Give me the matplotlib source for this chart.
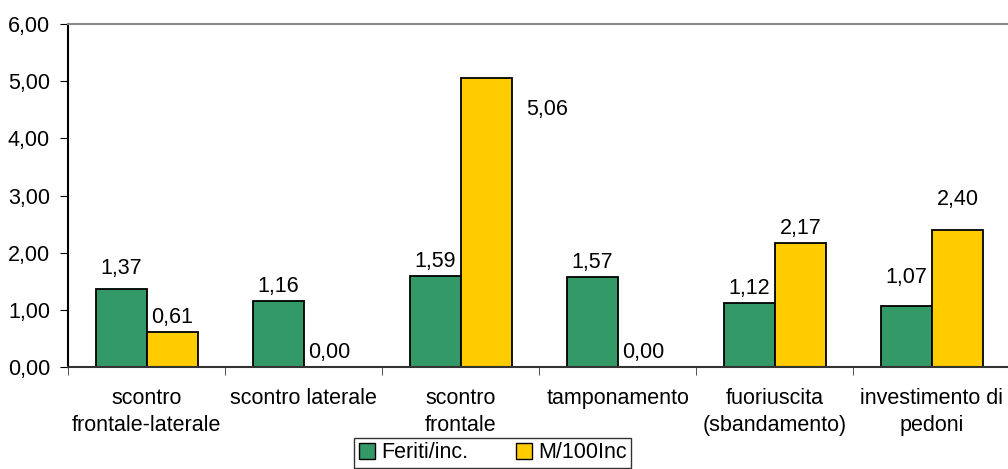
import numpy as np
import matplotlib.pyplot as plt
from matplotlib.patches import Patch

plt.rcParams['font.family'] = ['Liberation Sans', 'DejaVu Sans']

categories = ["scontro\nfrontale-laterale", "scontro laterale", "scontro\nfrontale",
              "tamponamento", "fuoriuscita\n(sbandamento)", "investimento di\npedoni"]
feriti = [1.37, 1.16, 1.59, 1.57, 1.12, 1.07]
morti = [0.61, 0.00, 5.06, 0.00, 2.17, 2.40]
series_names = ["Feriti/inc.", "M/100Inc"]
yticks = [0, 1, 2, 3, 4, 5, 6]

green = "#339966"
yellow = "#ffcc00"

# label offsets in points (dx, dy) from the top centre of each bar
feriti_offsets = {0: (0, 7), 5: (0, 13)}
morti_offsets = {2: (44, -23), 5: (0, 14)}

fig = plt.figure(figsize=(10.08, 4.69), dpi=100)
ax = fig.add_axes([0.0675, 0.2175, 0.935, 0.7313])

x = np.arange(len(categories))
w = 0.325
b1 = ax.bar(x - w / 2, feriti, w, color=green, edgecolor="black", linewidth=1.3)
b2 = ax.bar(x + w / 2, morti, w, color=yellow, edgecolor="black", linewidth=1.3)

fs = 15.5


def fmt(v):
    return f"{v:.2f}".replace(".", ",")


for bars, vals, offs in ((b1, feriti, feriti_offsets), (b2, morti, morti_offsets)):
    for i, r in enumerate(bars):
        dx, dy = offs.get(i, (0, 3))
        va = "center" if dy < 0 else "bottom"
        ax.annotate(fmt(vals[i]), (r.get_x() + r.get_width() / 2, r.get_height()),
                    xytext=(dx, dy), textcoords="offset points",
                    ha="center", va=va, fontsize=fs)

ax.set_xlim(-0.5, len(categories) - 0.5)
ax.set_ylim(0, 6)
ax.set_yticks(yticks)
ax.set_yticklabels([fmt(v) for v in yticks], fontsize=fs)
ax.set_xticks(x)
ax.set_xticklabels(categories, fontsize=fs, linespacing=1.4)
ax.set_xticks(np.arange(len(categories) + 1) - 0.5, minor=True)
ax.tick_params(axis="x", which="major", length=0, pad=15)
ax.tick_params(axis="x", which="minor", length=6, direction="out", color="#333333")
ax.tick_params(axis="y", length=6, direction="out", pad=7)

ax.spines["right"].set_visible(False)
ax.spines["top"].set_color("#888888")
ax.spines["top"].set_linewidth(1.5)
ax.spines["left"].set_linewidth(1.5)
ax.spines["bottom"].set_color("#333333")
ax.spines["bottom"].set_linewidth(1.5)

handles = [Patch(facecolor=green, edgecolor="black"),
           Patch(facecolor=yellow, edgecolor="black")]
leg = fig.legend(handles, series_names, loc="upper center", bbox_to_anchor=(0.489, 0.066),
                 ncol=2, fontsize=fs, frameon=True, fancybox=False, edgecolor="black",
                 handlelength=0.75, handleheight=0.75, handletextpad=0.3, columnspacing=2.2,
                 borderpad=0.2, borderaxespad=0)
leg.get_frame().set_linewidth(1.0)

fig.savefig("out.png", dpi=100)
